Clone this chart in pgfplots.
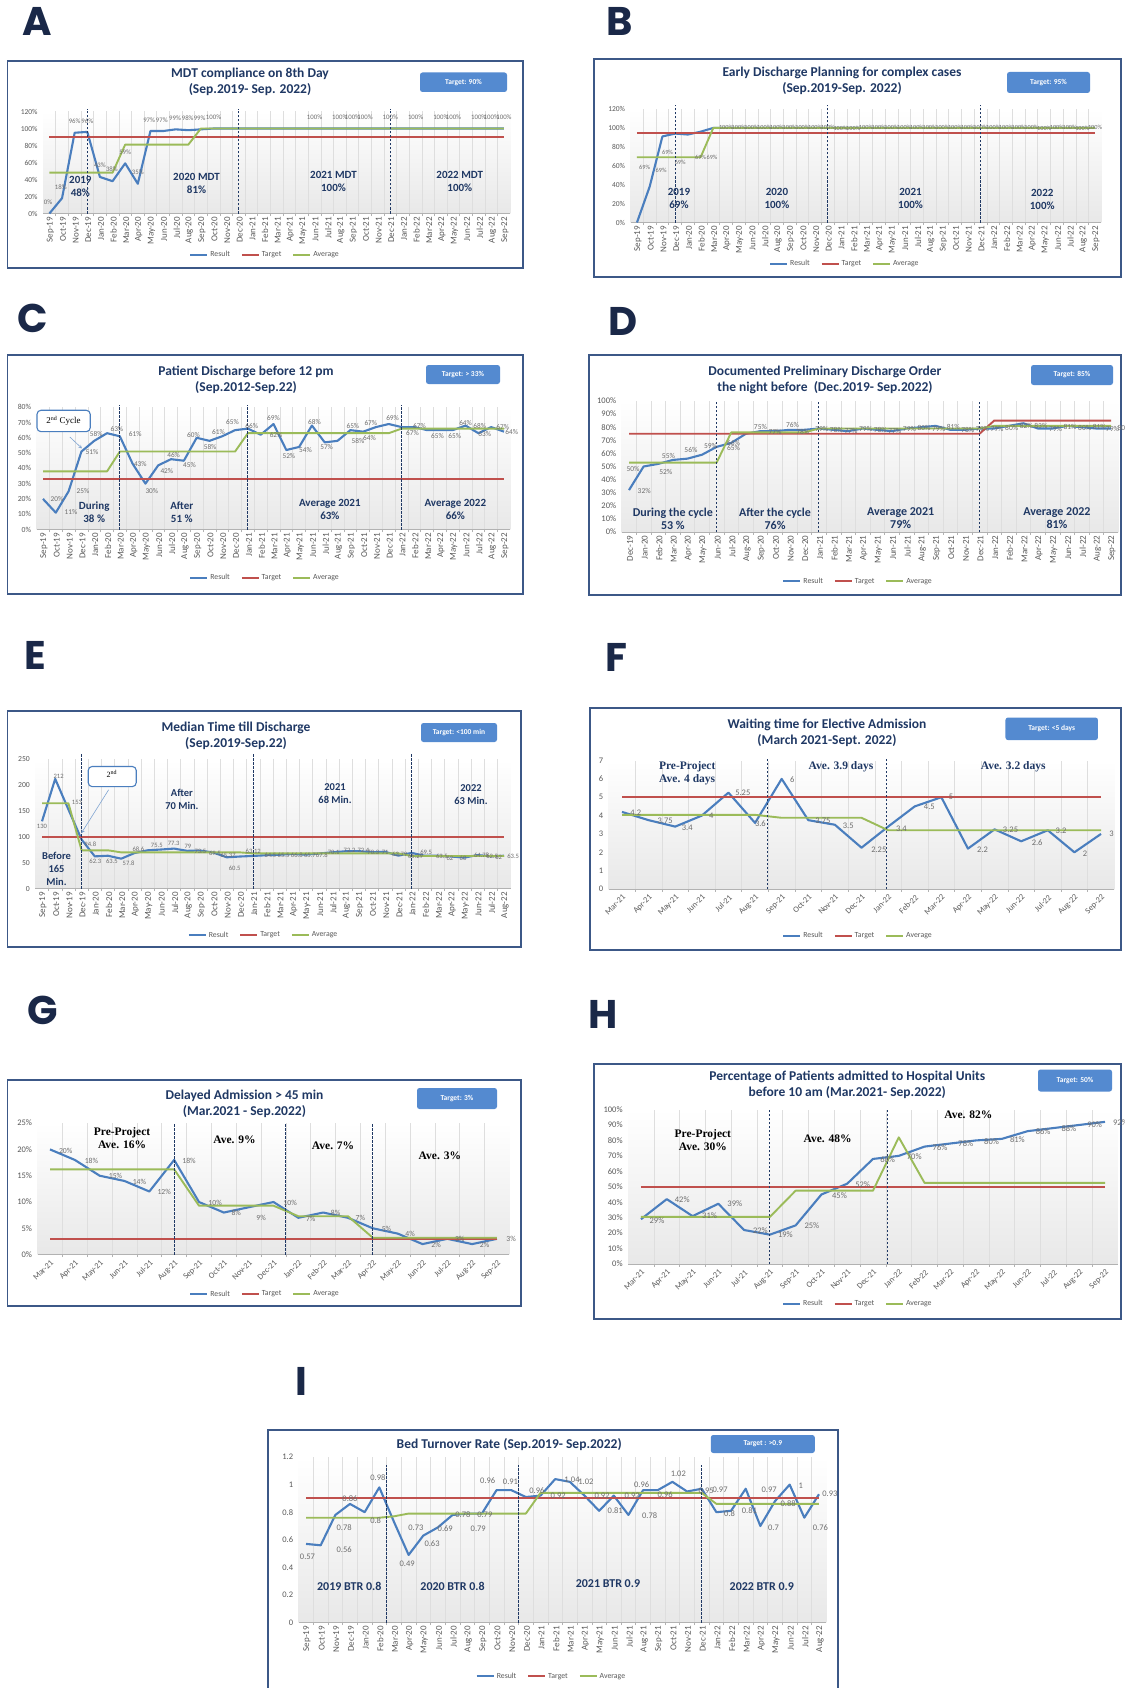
\documentclass[border=0pt]{standalone}
\usepackage{pgfplots}
\pgfplotsset{compat=1.18}
\usepackage{fontspec}
\setmainfont{Carlito}
\newfontfamily\tnr{Liberation Serif}
\newfontfamily\letterfont{Poppins}

\definecolor{xblue}{RGB}{74,126,190}
\definecolor{xred}{RGB}{192,80,77}
\definecolor{xgreen}{RGB}{155,187,89}
\definecolor{navy}{RGB}{31,56,100}
\definecolor{tgt}{RGB}{84,138,208}
\definecolor{framec}{RGB}{60,88,135}
\definecolor{letterc}{RGB}{26,40,72}
\definecolor{lbc}{RGB}{110,110,110}

\def\lbfs{7}
\def\annfs{11}
\tikzset{
  lb/.style={font=\fontsize{\lbfs}{\lbfs}\selectfont, text=lbc, inner sep=0pt},
  ann/.style={font=\bfseries\fontsize{\annfs}{13}\selectfont, text=navy, align=center, inner sep=0pt},
  annT/.style={font=\tnr\bfseries\fontsize{11.5}{13}\selectfont, align=center, inner sep=0pt},
  dl/.style={draw=navy, dash pattern=on 2.5pt off 1.5pt, line width=0.9pt},
  ttl/.style={font=\bfseries\fontsize{13.5}{16.5}\selectfont, text=navy, align=center, inner sep=0pt},
  tbox/.style={fill=tgt, rounded corners=2.5pt, text=white, font=\bfseries\fontsize{7.5}{9}\selectfont, inner sep=0pt},
  bigl/.style={font=\letterfont\bfseries\fontsize{40}{40}\selectfont, text=letterc, inner sep=0pt},
  frm/.style={draw=framec, line width=1.6pt},
}
\newcommand{\lb}[3]{\node[lb] at (axis cs:#1,#2) {#3};}

\pgfplotsset{
  legend image code/.code={\draw[#1] (0pt,0pt) -- (17pt,0pt);},
  res/.style={xblue, line width=2.1pt, line join=round},
  tg/.style={xred, line width=1.9pt},
  av/.style={xgreen, line width=1.9pt, line join=round},
  base/.style={
    anchor=south west, scale only axis, clip=false, xmin=-0.5, ymin=0,
    axis x line*=bottom, axis y line*=left,
    x axis line style={draw=black!30, line width=0.8pt},
    y axis line style={draw=none},
    tick align=outside,
    major tick length=0pt, minor tick length=2.5pt,
    minor x tick style={draw=black!30, line width=0.6pt},
    xminorgrids=true, minor x grid style={draw=black!13, line width=0.6pt},
    xticklabel style={font=\fontsize{9}{10}\selectfont, text=black!65},
    yticklabel style={font=\fontsize{7.5}{9}\selectfont, text=black!65, xshift=-2pt},
    axis background/.style={top color=white, bottom color=black!9},
    legend style={draw=none, fill=none, legend columns=3, anchor=center,
      font=\fontsize{7.8}{9}\selectfont, text=black!65,
      /tikz/every even column/.append style={column sep=9pt}},
    no markers,
  },
  rot90/.style={xticklabel style={rotate=90, anchor=east, yshift=-1pt}},
  rot45/.style={xticklabel style={rotate=45, anchor=north east, font=\fontsize{8.3}{9}\selectfont}},
  mSS/.style={xtick={0,...,36}, minor xtick={0.5,1.5,...,35.5}, xmax=36.5,
    xticklabels={Sep-19,Oct-19,Nov-19,Dec-19,Jan-20,Feb-20,Mar-20,Apr-20,May-20,Jun-20,Jul-20,Aug-20,Sep-20,Oct-20,Nov-20,Dec-20,Jan-21,Feb-21,Mar-21,Apr-21,May-21,Jun-21,Jul-21,Aug-21,Sep-21,Oct-21,Nov-21,Dec-21,Jan-22,Feb-22,Mar-22,Apr-22,May-22,Jun-22,Jul-22,Aug-22,Sep-22}},
  mSA/.style={xtick={0,...,35}, minor xtick={0.5,1.5,...,34.5}, xmax=35.5,
    xticklabels={Sep-19,Oct-19,Nov-19,Dec-19,Jan-20,Feb-20,Mar-20,Apr-20,May-20,Jun-20,Jul-20,Aug-20,Sep-20,Oct-20,Nov-20,Dec-20,Jan-21,Feb-21,Mar-21,Apr-21,May-21,Jun-21,Jul-21,Aug-21,Sep-21,Oct-21,Nov-21,Dec-21,Jan-22,Feb-22,Mar-22,Apr-22,May-22,Jun-22,Jul-22,Aug-22}},
  mDS/.style={xtick={0,...,33}, minor xtick={0.5,1.5,...,32.5}, xmax=33.5,
    xticklabels={Dec-19,Jan-20,Feb-20,Mar-20,Apr-20,May-20,Jun-20,Jul-20,Aug-20,Sep-20,Oct-20,Nov-20,Dec-20,Jan-21,Feb-21,Mar-21,Apr-21,May-21,Jun-21,Jul-21,Aug-21,Sep-21,Oct-21,Nov-21,Dec-21,Jan-22,Feb-22,Mar-22,Apr-22,May-22,Jun-22,Jul-22,Aug-22,Sep-22}},
  mMS/.style={xtick={0,...,18}, minor xtick={0.5,1.5,...,17.5}, xmax=18.5,
    xticklabels={Mar-21,Apr-21,May-21,Jun-21,Jul-21,Aug-21,Sep-21,Oct-21,Nov-21,Dec-21,Jan-22,Feb-22,Mar-22,Apr-22,May-22,Jun-22,Jul-22,Aug-22,Sep-22}},
}

\begin{document}
\begin{tikzpicture}
\useasboundingbox (0pt,0pt) rectangle (1124pt,-1688pt);
\fill[white] (0pt,0pt) rectangle (1124pt,-1688pt);

% panel letters
\node[bigl] at (37.1pt,-21.5pt) {A};
\node[bigl] at (619.6pt,-21.5pt) {B};
\node[bigl] at (32.8pt,-318.7pt) {C};
\node[bigl] at (623.4pt,-321.9pt) {D};
\node[bigl] at (35.5pt,-655.6pt) {E};
\node[bigl] at (616.9pt,-657.8pt) {F};
\node[bigl] at (42.5pt,-1009.9pt) {G};
\node[bigl] at (603.4pt,-1014.2pt) {H};
\node[bigl] at (301.4pt,-1381.3pt) {I};

% frames
\draw[frm] (7.5pt,-61pt) rectangle (523pt,-268pt);
\draw[frm] (594pt,-59pt) rectangle (1121pt,-277pt);
\draw[frm] (7.5pt,-355pt) rectangle (523pt,-594pt);
\draw[frm] (589pt,-355pt) rectangle (1121pt,-595pt);
\draw[frm] (7.5pt,-711pt) rectangle (521pt,-947pt);
\draw[frm] (590pt,-708pt) rectangle (1121pt,-950pt);
\draw[frm] (7.5pt,-1080pt) rectangle (521pt,-1306pt);
\draw[frm] (594pt,-1064pt) rectangle (1121pt,-1319pt);
\draw[frm] (268pt,-1430pt) rectangle (838pt,-1700pt);

% titles
\node[ttl] at (250pt,-82pt) {MDT compliance on 8th Day\\(Sep.2019- Sep. 2022)};
\node[ttl] at (842pt,-81pt) {Early Discharge Planning for complex cases\\(Sep.2019-Sep. 2022)};
\node[ttl] at (246pt,-380pt) {Patient Discharge before 12 pm\\(Sep.2012-Sep.22)};
\node[ttl] at (825pt,-380pt) {Documented Preliminary Discharge Order\\the night before~~(Dec.2019- Sep.2022)};
\node[ttl] at (236pt,-736pt) {Median Time till Discharge\\(Sep.2019-Sep.22)};
\node[ttl] at (827pt,-732.7pt) {Waiting time for Elective Admission\\(March 2021-Sept. 2022)};
\node[ttl] at (244.4pt,-1104pt) {Delayed Admission > 45 min\\(Mar.2021 - Sep.2022)};
\node[ttl] at (847.3pt,-1085pt) {Percentage of Patients admitted to Hospital Units\\before 10 am (Mar.2021- Sep.2022)};
\node[ttl] at (509.2pt,-1445pt) {Bed Turnover Rate (Sep.2019- Sep.2022)};

% target boxes
\node[tbox, minimum width=87pt, minimum height=19.5pt] at (463.5pt,-82.25pt) {Target: 90\%};
\node[tbox, minimum width=83pt, minimum height=21pt] at (1048.5pt,-82.5pt) {Target: 95\%};
\node[tbox, minimum width=74pt, minimum height=19pt] at (463pt,-374.5pt) {Target: > 33\%};
\node[tbox, minimum width=82pt, minimum height=20pt] at (1072pt,-375pt) {Target: 85\%};
\node[tbox, minimum width=76pt, minimum height=19pt] at (459pt,-732.5pt) {Target: <100 min};
\node[tbox, minimum width=92.5pt, minimum height=22.5pt] at (1051.7pt,-728.8pt) {Target: <5 days};
\node[tbox, minimum width=80pt, minimum height=21pt] at (457pt,-1098.5pt) {Target: 3\%};
\node[tbox, minimum width=74pt, minimum height=22pt] at (1075pt,-1080.5pt) {Target: 50\%};
\node[tbox, minimum width=104pt, minimum height=18pt] at (762.8pt,-1444pt) {Target : >0.9};

% ================= A =================
\def\lbfs{6.8}\def\annfs{11}
\begin{axis}[base, rot90, mSS, at={(43.1pt,-213.5pt)}, width=467.2pt, height=102pt, ymax=120,
  ytick={0,20,...,120}, yticklabels={0\%,20\%,40\%,60\%,80\%,100\%,120\%},
  legend style={at={(0.475,-0.407)}}]
\addplot[res] coordinates {(0,0) (1,18) (2,95) (3,96) (4,43) (5,38) (6,59) (7,35) (8,97) (9,97) (10,99) (11,98) (12,99) (13,100) (36,100)};
\addplot[tg] coordinates {(0,90) (36,90)};
\addplot[av] coordinates {(0,48) (5,48) (6,81) (11,81) (12,100) (36,100)};
\legend{Result,Target,Average}
\draw[dl] (axis cs:3,0) -- (axis cs:3,123);
\draw[dl] (axis cs:15,0) -- (axis cs:15,123);
\draw[dl] (axis cs:27,0) -- (axis cs:27,123);
\node[ann] at (axis cs:2.45,32) {2019\\48\%};
\node[ann] at (axis cs:11.65,35.5) {2020 MDT\\81\%};
\node[ann] at (axis cs:22.5,37.5) {2021 MDT\\100\%};
\node[ann] at (axis cs:32.5,37.5) {2022 MDT\\100\%};
\lb{-0.1}{13}{0\%}\lb{0.9}{31}{18\%}\lb{2}{109}{96\%}\lb{3}{109}{96\%}
\lb{4}{57}{43\%}\lb{4.95}{52}{38\%}\lb{6}{72}{59\%}\lb{7}{48}{35\%}
\lb{7.9}{110}{97\%}\lb{8.9}{110}{97\%}\lb{9.95}{112}{99\%}\lb{10.95}{112}{98\%}\lb{11.9}{112}{99\%}\lb{13}{113}{100\%}
\lb{21}{113}{100\%}\lb{23}{113}{100\%}\lb{24}{113}{100\%}\lb{25}{113}{100\%}\lb{27}{113}{100\%}\lb{29}{113}{100\%}
\lb{31}{113}{100\%}\lb{32}{113}{100\%}\lb{34}{113}{100\%}\lb{35}{113}{100\%}\lb{36}{113}{100\%}
\end{axis}

% ================= B =================
\def\lbfs{6.3}\def\annfs{11}
\begin{axis}[base, rot90, mSS, at={(630.6pt,-222.5pt)}, width=470.8pt, height=113.5pt, ymax=120,
  ytick={0,20,...,120}, yticklabels={0\%,20\%,40\%,60\%,80\%,100\%,120\%},
  legend style={at={(0.455,-0.364)}}]
\addplot[res] coordinates {(0,0) (1,38) (2,91) (3,94) (4,93) (5,96) (6,100) (36,100)};
\addplot[tg] coordinates {(0,95) (36,95)};
\addplot[av] coordinates {(0,69) (5,69) (6,100) (36,100)};
\legend{Result,Target,Average}
\draw[dl] (axis cs:3,0) -- (axis cs:3,124);
\draw[dl] (axis cs:15,0) -- (axis cs:15,124);
\draw[dl] (axis cs:27,0) -- (axis cs:27,124);
\node[ann] at (axis cs:3.3,25) {2019\\69\%};
\node[ann] at (axis cs:11,25) {2020\\100\%};
\node[ann] at (axis cs:21.5,25) {2021\\100\%};
\node[ann] at (axis cs:31.85,24) {2022\\100\%};
\lb{0.6}{58}{69\%}\lb{1.9}{55}{69\%}\lb{2.4}{74}{69\%}\lb{3.4}{64}{69\%}\lb{5.0}{69}{69\%}\lb{5.9}{69}{69\%}
\lb{7}{101}{100\%}\lb{8}{101}{100\%}\lb{9}{101}{100\%}\lb{10}{101}{100\%}\lb{11}{101}{100\%}\lb{12}{101}{100\%}
\lb{13}{101}{100\%}\lb{14}{101}{100\%}\lb{15}{101}{100\%}\lb{16}{99}{100\%}\lb{17}{99}{100\%}\lb{18}{101}{100\%}
\lb{19}{101}{100\%}\lb{20}{101}{100\%}\lb{21}{101}{100\%}\lb{22}{101}{100\%}\lb{23}{101}{100\%}\lb{24}{101}{100\%}
\lb{25}{101}{100\%}\lb{26}{101}{100\%}\lb{27}{101}{100\%}\lb{28}{101}{100\%}\lb{29}{101}{100\%}\lb{30}{101}{100\%}
\lb{31}{101}{100\%}\lb{32}{99}{100\%}\lb{33}{101}{100\%}\lb{34}{101}{100\%}\lb{35}{99}{100\%}\lb{36}{101}{100\%}
\end{axis}

% ================= C =================
\def\lbfs{7.3}\def\annfs{11}
\begin{axis}[base, rot90, mSS, at={(36.6pt,-529.5pt)}, width=473.8pt, height=122.3pt, ymax=80,
  ytick={0,10,...,80}, yticklabels={0\%,10\%,20\%,30\%,40\%,50\%,60\%,70\%,80\%},
  yticklabel style={font=\fontsize{7.7}{9}\selectfont},
  legend style={at={(0.482,-0.394)}}]
\addplot[res] coordinates {(0,20) (1,11) (2,25) (3,51) (4,58) (5,63) (6,61) (7,43) (8,30) (9,42) (10,46) (11,45) (12,60) (13,58) (14,61) (15,65) (16,66) (17,62) (18,69) (19,52) (20,54) (21,68) (22,57) (23,58) (24,65) (25,64) (26,67) (27,69) (28,67) (29,67) (30,65) (31,65) (32,65) (33,68) (34,63) (35,67) (36,64)};
\addplot[tg] coordinates {(0,33) (36,33)};
\addplot[av] coordinates {(0,38) (5,38) (6,51) (15,51) (16,63) (27,63) (28,66) (36,66)};
\legend{Result,Target,Average}
\draw[dl] (axis cs:6,0) -- (axis cs:6,81.5);
\draw[dl] (axis cs:16,0) -- (axis cs:16,81.5);
\draw[dl] (axis cs:28,0) -- (axis cs:28,81.5);
\draw[xblue, rounded corners=4pt, line width=1.1pt, fill=white] (axis cs:-0.47,78) rectangle (axis cs:3.69,64);
\node[font=\tnr\fontsize{9}{10}\selectfont] at (axis cs:1.6,71) {2\textsuperscript{nd} Cycle};
\draw[xblue!70, -stealth, line width=0.6pt] (axis cs:2.1,60.5) -- (axis cs:3.05,53);
\node[ann] at (axis cs:4.0,11.5) {During\\38 \%};
\node[ann] at (axis cs:10.84,11.5) {After\\51 \%};
\node[ann] at (axis cs:22.4,12.8) {Average 2021\\63\%};
\node[ann] at (axis cs:32.2,12.8) {Average 2022\\66\%};
\lb{1.09}{19.7}{20\%}\lb{2.18}{11.4}{11\%}\lb{3.12}{25}{25\%}\lb{3.82}{50.4}{51\%}\lb{4.16}{62.5}{58\%}
\lb{5.77}{65.8}{63\%}\lb{7.2}{62.5}{61\%}\lb{7.6}{42.7}{43\%}\lb{8.5}{25.2}{30\%}\lb{9.67}{38.1}{42\%}
\lb{10.2}{48.7}{46\%}\lb{11.44}{42}{45\%}\lb{11.75}{61.8}{60\%}\lb{13.05}{54.1}{58\%}\lb{13.7}{64}{61\%}
\lb{14.8}{70}{65\%}\lb{16.3}{68}{66\%}\lb{18}{72.8}{69\%}\lb{18.2}{61.8}{62\%}\lb{19.2}{48}{52\%}
\lb{20.5}{52}{54\%}\lb{21.2}{70.6}{68\%}\lb{22.15}{54.1}{57\%}\lb{24.6}{57.9}{58\%}\lb{24.2}{67.7}{65\%}
\lb{25.5}{60}{64\%}\lb{25.6}{69.5}{67\%}\lb{27.3}{72.8}{69\%}\lb{28.85}{62.9}{67\%}\lb{29.4}{67.7}{67\%}
\lb{30.8}{61.2}{65\%}\lb{32.15}{61.2}{65\%}\lb{33}{69.5}{64\%}\lb{34.1}{68}{68\%}\lb{34.5}{62.2}{63\%}
\lb{35.9}{67.3}{67\%}\lb{36.6}{64}{64\%}
\end{axis}

% ================= D =================
\def\lbfs{7.5}\def\annfs{12}
\begin{axis}[base, rot90, mDS, at={(621.7pt,-532pt)}, width=496.6pt, height=131pt, ymax=100,
  ytick={0,10,...,100}, yticklabels={0\%,10\%,20\%,30\%,40\%,50\%,60\%,70\%,80\%,90\%,100\%},
  yticklabel style={font=\fontsize{8.5}{9}\selectfont},
  legend style={at={(0.476,-0.377)}}]
\addplot[res] coordinates {(0,32) (1,50) (2,52) (3,55) (4,56) (5,59) (6,65) (7,68) (8,75) (9,77) (10,77) (11,78) (12,78) (13,79) (14,78) (15,77) (16,79) (17,78) (18,77) (19,79) (20,80) (21,81) (22,78) (23,78) (24,79) (25,79) (26,81) (27,83) (28,79) (29,79) (30,81) (31,80) (32,79) (33,79)};
\addplot[tg] coordinates {(0,75) (24,75) (25,85) (33,85)};
\addplot[av] coordinates {(0,53) (6,53) (7,76) (12,76) (13,79) (24,79) (25,81) (33,81)};
\legend{Result,Target,Average}
\draw[dl] (axis cs:6,0) -- (axis cs:6,100);
\draw[dl] (axis cs:13,0) -- (axis cs:13,100);
\draw[dl] (axis cs:24,0) -- (axis cs:24,100);
\node[ann] at (axis cs:3.0,10.4) {During the cycle\\53 \%};
\node[ann] at (axis cs:10.0,10.4) {After the cycle\\76\%};
\node[ann] at (axis cs:18.6,10.4) {Average 2021\\79\%};
\node[ann] at (axis cs:29.3,10.4) {Average 2022\\81\%};
\lb{0.28}{48.1}{50\%}\lb{1.04}{31.6}{32\%}\lb{2.52}{45.6}{52\%}\lb{2.7}{57.7}{55\%}\lb{4.24}{62.3}{56\%}
\lb{5.58}{65.3}{59\%}\lb{7.16}{68.3}{66\%}\lb{7.16}{63.8}{65\%}\lb{9.0}{80.5}{75\%}\lb{10.0}{76}{77\%}
\lb{11.2}{81.5}{76\%}\lb{11.9}{76.5}{78\%}
\lb{13.2}{78.5}{79\%}\lb{14.2}{78}{78\%}\lb{15.2}{77.5}{77\%}\lb{16.2}{78.5}{79\%}\lb{17.2}{78}{78\%}
\lb{18.2}{77.5}{77\%}\lb{19.2}{79}{79\%}\lb{20.2}{79.5}{80\%}\lb{21.2}{78.5}{79\%}\lb{22.2}{80}{81\%}
\lb{23.2}{78}{78\%}\lb{24.2}{78.5}{79\%}\lb{25.2}{78.5}{79\%}\lb{26.2}{79.5}{80\%}\lb{27.2}{81}{82\%}
\lb{28.2}{81}{83\%}\lb{29.2}{78.5}{79\%}\lb{30.2}{80}{81\%}\lb{31.2}{79.5}{80\%}\lb{32.2}{80}{81\%}
\lb{33.1}{78.5}{79\%}\lb{33.9}{79.5}{80\%}
\end{axis}

% ================= E =================
\def\lbfs{6.6}\def\annfs{10.5}
\begin{axis}[base, rot90, mSA, at={(35.4pt,-888.6pt)}, width=475.2pt, height=129.4pt, ymax=250,
  ytick={0,50,...,250}, yticklabels={0,50,100,150,200,250},
  yticklabel style={font=\fontsize{7.7}{9}\selectfont},
  legend style={at={(0.48,-0.359)}}]
\addplot[res] coordinates {(0,130) (1,212) (2,153) (3,94.8) (4,62.3) (5,63.5) (6,57.8) (7,68.6) (8,74) (9,75.5) (10,77.3) (11,73) (12,73.5) (13,69.5) (14,60.5) (15,62) (16,63.12) (17,64.5) (18,65.5) (19,66.8) (20,65.7) (21,67.8) (22,70.1) (23,72.2) (24,72.4) (25,70.3) (26,71) (27,63.7) (28,69) (29,63.5) (30,63.5) (31,62) (32,60) (33,64.78) (34,62.5) (35,63.5)};
\addplot[tg] coordinates {(0,100) (35,100)};
\addplot[av] coordinates {(0,165) (2,165) (3,74) (5,74) (6,70) (15,70) (16,68) (27,68) (28,63) (35,63)};
\legend{Result,Target,Average}
\draw[dl] (axis cs:3,0) -- (axis cs:3,261);
\draw[dl] (axis cs:16,0) -- (axis cs:16,261);
\draw[dl] (axis cs:28,0) -- (axis cs:28,261);
\draw[xblue, rounded corners=4pt, line width=1.1pt, fill=white] (axis cs:3.5,236) rectangle (axis cs:7.14,197);
\node[font=\tnr\fontsize{8}{9}\selectfont] at (axis cs:5.3,222) {2\textsuperscript{nd}};
\draw[xblue!70, -stealth, line width=0.6pt] (axis cs:5.05,191) -- (axis cs:2.98,107);
\node[ann] at (axis cs:1.1,38.6) {Before\\165\\Min.};
\node[ann] at (axis cs:10.6,173) {After\\70 Min.};
\node[ann] at (axis cs:22.2,184) {2021\\68 Min.};
\node[ann] at (axis cs:32.5,182) {2022\\63 Min.};
\lb{0.0}{120}{130}\lb{1.26}{216.6}{212}\lb{2.65}{166.5}{153}\lb{3.66}{86}{94.8}\lb{4.04}{52.7}{62.3}
\lb{5.3}{52.7}{63.5}\lb{6.56}{48.2}{57.8}\lb{7.3}{75.2}{68.6}\lb{8.7}{83.5}{75.5}\lb{9.97}{88}{77.3}
\lb{11.05}{81.6}{79}\lb{12.0}{72}{73.5}\lb{13.1}{68.8}{69.5}\lb{14.1}{63.6}{65.37}\lb{14.6}{38.6}{60.5}
\lb{16.0}{72}{63.12}\lb{17.3}{64.3}{64.5}\lb{18.3}{64.3}{65.5}\lb{19.3}{64.3}{66.8}\lb{20.3}{64.3}{65.7}
\lb{21.2}{64.3}{67.8}\lb{22.1}{70}{70.1}\lb{23.3}{73.3}{72.2}\lb{24.35}{73.3}{72.4}\lb{25.1}{70}{70.3}
\lb{26}{70}{71}\lb{27.1}{65.5}{63.79}\lb{28.3}{62.3}{65.29}\lb{29.1}{70.7}{69.5}\lb{30.3}{62.3}{63.5}
\lb{30.9}{59}{62}\lb{31.9}{57.8}{60}\lb{33.3}{64.3}{64.78}\lb{34.1}{62.3}{62.5}\lb{34.6}{60}{62}\lb{35.7}{62.3}{63.5}
\end{axis}

% ================= F =================
\def\lbfs{8.5}
\begin{axis}[base, rot45, mMS, at={(608.7pt,-889pt)}, width=505.6pt, height=128.5pt, ymax=7,
  ytick={0,1,...,7}, yticklabels={0,1,2,3,4,5,6,7},
  yticklabel style={font=\fontsize{8.5}{9}\selectfont},
  legend style={at={(0.493,-0.363)}}]
\addplot[res] coordinates {(0,4.2) (1,3.75) (2,3.4) (3,4) (4,5.25) (5,3.6) (6,6) (7,3.75) (8,3.5) (9,2.25) (10,3.4) (11,4.5) (12,5) (13,2.2) (14,3.25) (15,2.6) (16,3.2) (17,2) (18,3)};
\addplot[tg] coordinates {(0,5) (18,5)};
\addplot[av] coordinates {(0,4.04) (5,4.04) (6,3.88) (9,3.88) (10,3.2) (18,3.2)};
\legend{Result,Target,Average}
\draw[dl] (axis cs:5.45,0) -- (axis cs:5.45,7.18);
\draw[dl] (axis cs:9.95,0) -- (axis cs:9.95,7.18);
\node[annT, text=navy] at (axis cs:2.45,6.33) {Pre-Project\\Ave. 4 days};
\node[annT, text=navy] at (axis cs:8.23,6.64) {Ave. 3.9 days};
\node[annT, text=navy] at (axis cs:14.7,6.67) {Ave. 3.2 days};
\lb{0.52}{4.14}{4.2}\lb{1.62}{3.72}{3.75}\lb{2.45}{3.35}{3.4}\lb{3.35}{4.0}{4}\lb{4.54}{5.23}{5.25}
\lb{5.2}{3.54}{3.6}\lb{6.4}{5.96}{6}\lb{7.55}{3.72}{3.75}\lb{8.5}{3.45}{3.5}\lb{9.65}{2.13}{2.25}
\lb{10.5}{3.3}{3.4}\lb{11.55}{4.48}{4.5}\lb{12.36}{5.0}{5}\lb{13.55}{2.13}{2.2}\lb{14.6}{3.2}{3.25}
\lb{15.6}{2.53}{2.6}\lb{16.5}{3.15}{3.2}\lb{17.4}{1.93}{2}\lb{18.4}{2.99}{3}
\end{axis}

% ================= G =================
\def\lbfs{7.7}
\begin{axis}[base, rot45, mMS, at={(37.6pt,-1254.6pt)}, width=471.8pt, height=131.5pt, ymax=25,
  ytick={0,5,...,25}, yticklabels={0\%,5\%,10\%,15\%,20\%,25\%},
  yticklabel style={font=\fontsize{8.5}{9}\selectfont},
  legend style={at={(0.482,-0.30)}}]
\addplot[res] coordinates {(0,20) (1,18) (2,15) (3,14) (4,12) (5,18) (6,10) (7,8) (8,9) (9,10) (10,7) (11,8) (12,7) (13,5) (14,4) (15,2) (16,3) (17,2) (18,3)};
\addplot[tg] coordinates {(0,3) (18,3)};
\addplot[av] coordinates {(0,16.2) (5,16.2) (6,9.3) (9,9.3) (10,7.3) (12,7.3) (13,3.2) (18,3.2)};
\legend{Result,Target,Average}
\draw[dl] (axis cs:5,0) -- (axis cs:5,24.8);
\draw[dl] (axis cs:9.5,0) -- (axis cs:9.5,24.8);
\draw[dl] (axis cs:13,0) -- (axis cs:13,24.8);
\node[annT] at (axis cs:2.9,22.1) {Pre-Project\\Ave. 16\%};
\node[annT] at (axis cs:7.43,21.8) {Ave. 9\%};
\node[annT] at (axis cs:11.4,20.7) {Ave. 7\%};
\node[annT] at (axis cs:15.7,18.8) {Ave. 3\%};
\lb{0.63}{19.7}{20\%}\lb{1.67}{17.8}{18\%}\lb{2.64}{15}{15\%}\lb{3.6}{13.9}{14\%}\lb{4.6}{11.9}{12\%}
\lb{5.6}{17.8}{18\%}\lb{6.65}{9.9}{10\%}\lb{7.5}{8}{8\%}\lb{8.5}{7}{9\%}\lb{9.67}{9.9}{10\%}
\lb{10.5}{6.8}{7\%}\lb{11.5}{8}{8\%}\lb{12.5}{7}{7\%}\lb{13.55}{4.9}{5\%}\lb{14.5}{3.9}{4\%}
\lb{15.55}{1.9}{2\%}\lb{16.5}{3}{3\%}\lb{17.5}{1.9}{2\%}\lb{18.57}{3}{3\%}
\end{axis}

% ================= H =================
\def\lbfs{8.5}
\begin{axis}[base, rot45, mMS, at={(628.1pt,-1264pt)}, width=489.8pt, height=154.5pt, ymax=100,
  ytick={0,10,...,100}, yticklabels={0\%,10\%,20\%,30\%,40\%,50\%,60\%,70\%,80\%,90\%,100\%},
  yticklabel style={font=\fontsize{8.5}{9}\selectfont},
  legend style={at={(0.469,-0.258)}}]
\addplot[res] coordinates {(0,29) (1,42) (2,31) (3,39) (4,22) (5,19) (6,25) (7,45) (8,52) (9,68) (10,70) (11,76) (12,78) (13,80) (14,81) (15,86) (16,88) (17,90) (18,92)};
\addplot[tg] coordinates {(0,50) (18,50)};
\addplot[av] coordinates {(0,30.5) (5,30.5) (6,47.5) (9,47.5) (10,82) (11,52.5) (18,52.5)};
\legend{Result,Target,Average}
\draw[dl] (axis cs:5,0) -- (axis cs:5,99.6);
\draw[dl] (axis cs:9.57,0) -- (axis cs:9.57,99.6);
\node[annT] at (axis cs:2.4,80.2) {Pre-Project\\Ave. 30\%};
\node[annT] at (axis cs:7.24,80.8) {Ave. 48\%};
\node[annT] at (axis cs:12.7,96.3) {Ave. 82\%};
\lb{0.62}{28.4}{29\%}\lb{1.6}{41.8}{42\%}\lb{2.66}{31}{31\%}\lb{3.64}{38.8}{39\%}\lb{4.63}{21.6}{22\%}
\lb{5.6}{18.8}{19\%}\lb{6.63}{24.6}{25\%}\lb{7.7}{44}{45\%}\lb{8.6}{51.5}{52\%}\lb{9.57}{67.7}{68\%}
\lb{10.6}{69.8}{70\%}\lb{11.6}{75.4}{76\%}\lb{12.6}{78}{78\%}\lb{13.6}{79.5}{80\%}\lb{14.6}{80.2}{81\%}
\lb{15.6}{86}{86\%}\lb{16.6}{87.7}{88\%}\lb{17.6}{89.9}{90\%}\lb{18.6}{91.4}{92\%}
\end{axis}

% ================= I =================
\def\lbfs{8.5}\def\annfs{12}
\begin{axis}[base, rot90, mSA, at={(298.7pt,-1622.5pt)}, width=527.6pt, height=165.5pt, ymax=1.2,
  ytick={0,0.2,...,1.2}, yticklabels={0,0.2,0.4,0.6,0.8,1,1.2},
  yticklabel style={font=\fontsize{8.5}{9}\selectfont},
  legend style={at={(0.479,-0.325)}}]
\addplot[res] coordinates {(0,0.57) (1,0.56) (2,0.78) (3,0.86) (4,0.8) (5,0.98) (6,0.73) (7,0.49) (8,0.63) (9,0.69) (10,0.78) (11,0.79) (12,0.79) (13,0.96) (14,0.96) (15,0.91) (16,0.92) (17,1.04) (18,1.02) (19,0.92) (20,0.81) (21,0.92) (22,0.78) (23,0.96) (24,0.96) (25,1.02) (26,0.95) (27,0.97) (28,0.8) (29,0.81) (30,0.97) (31,0.7) (32,0.88) (33,1.0) (34,0.76) (35,0.93)};
\addplot[tg] coordinates {(0,0.9) (35,0.9)};
\addplot[av] coordinates {(0,0.76) (5,0.76) (6,0.77) (7,0.79) (15,0.79) (16,0.94) (27,0.94) (28,0.86) (35,0.86)};
\legend{Result,Target,Average}
\draw[dl] (axis cs:5.5,0) -- (axis cs:5.5,1.144);
\draw[dl] (axis cs:14.5,0) -- (axis cs:14.5,1.144);
\draw[dl] (axis cs:27,0) -- (axis cs:27,1.144);
\node[ann] at (axis cs:2.95,0.26) {2019 BTR 0.8};
\node[ann] at (axis cs:10,0.26) {2020 BTR 0.8};
\node[ann] at (axis cs:20.6,0.28) {2021 BTR 0.9};
\node[ann] at (axis cs:31.1,0.26) {2022 BTR 0.9};
\lb{0.1}{0.48}{0.57}\lb{2.6}{0.53}{0.56}\lb{2.6}{0.69}{0.78}\lb{3.0}{0.9}{0.86}\lb{4.75}{0.74}{0.8}
\lb{4.9}{1.05}{0.98}\lb{7.5}{0.685}{0.73}\lb{6.9}{0.425}{0.49}\lb{8.6}{0.575}{0.63}\lb{9.5}{0.68}{0.69}
\lb{10.7}{0.78}{0.78}\lb{12.2}{0.78}{0.79}\lb{11.75}{0.68}{0.79}\lb{12.4}{1.03}{0.96}\lb{13.95}{1.02}{0.91}
\lb{15.75}{0.955}{0.96}\lb{17.2}{0.92}{0.92}\lb{18.15}{1.035}{1.04}\lb{19.1}{1.02}{1.02}\lb{20.2}{0.92}{0.92}
\lb{21.1}{0.81}{0.81}\lb{22.25}{0.92}{0.92}\lb{23.45}{0.777}{0.78}\lb{22.9}{1.0}{0.96}\lb{24.5}{0.93}{0.96}
\lb{25.4}{1.077}{1.02}\lb{27.3}{0.955}{0.95}\lb{28.25}{0.963}{0.97}\lb{28.9}{0.79}{0.8}\lb{30.25}{0.81}{0.81}
\lb{31.6}{0.963}{0.97}\lb{31.9}{0.69}{0.7}\lb{33.75}{0.99}{1}\lb{32.9}{0.86}{0.88}\lb{35.1}{0.69}{0.76}\lb{35.75}{0.93}{0.93}
\end{axis}
\end{tikzpicture}
\end{document}
